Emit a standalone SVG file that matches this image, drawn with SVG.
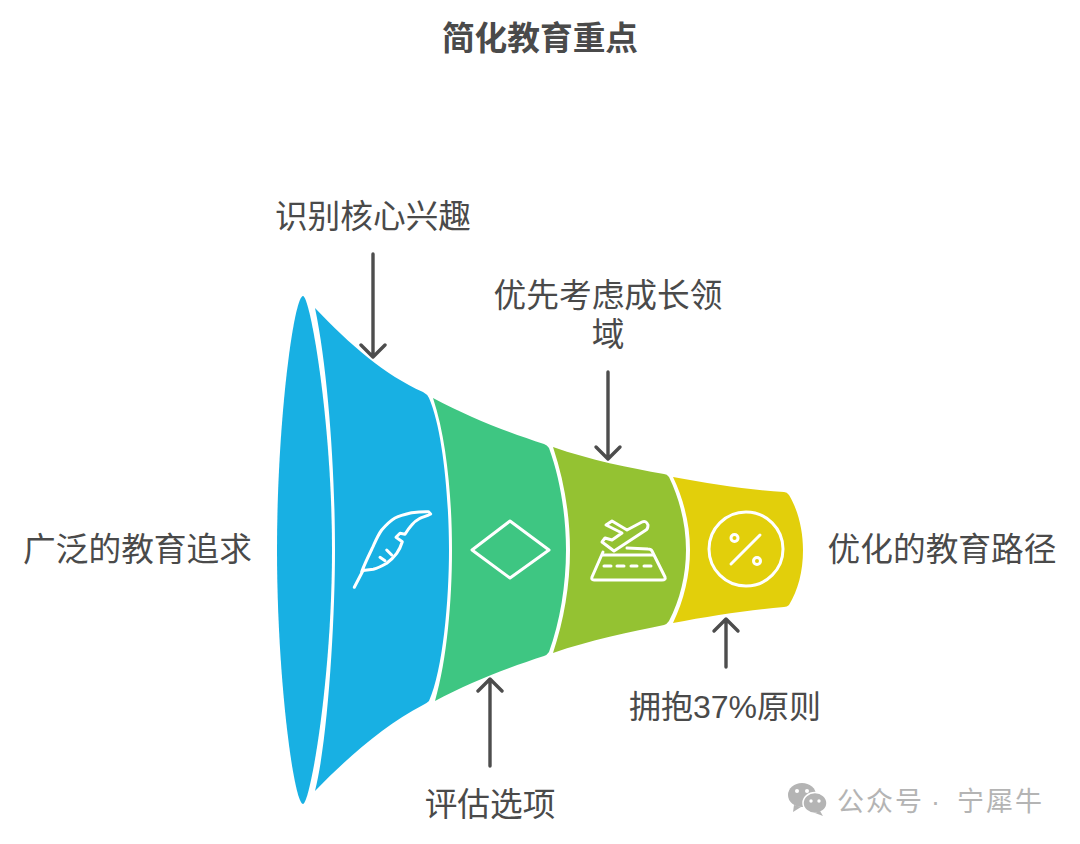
<svg xmlns="http://www.w3.org/2000/svg" width="1080" height="844" viewBox="0 0 1080 844">
<style>
text{font-family:"Liberation Sans","Noto Sans CJK SC",sans-serif;fill:#4a4a4a;font-size:32.700px;text-anchor:middle}
.t{font-weight:700}
.ic{fill:none;stroke:#fff;stroke-width:3;stroke-linecap:round;stroke-linejoin:round}
.ar{fill:none;stroke:#4d4d4d;stroke-width:3.400;stroke-linecap:round;stroke-linejoin:round}
.wm{fill:#b4b4b4;font-size:27px;text-anchor:start;letter-spacing:2px}
</style>
<rect width="1080" height="844" fill="#fff"/>
<text class="t" x="540" y="50">简化教育重点</text>
<g id="seg4"><path d="M673 477C710 484 750 490 784 492Q787 492 789 495C798 510 803 530 803 550C803 572 798 590 789 605Q787 607 784 607C750 610 710 616 673 623C684 600 690 575 690 550C690 525 684 500 673 477Z" fill="#e2cf0b"/><g class="ic"><circle cx="746" cy="549" r="37"/><path d="M760 535L731 564"/><circle cx="734.500" cy="538" r="3.500"/><circle cx="757" cy="561" r="3.500"/></g></g>
<g id="seg3"><path d="M553 447C590 460 630 468 664 474Q667 474 669 477C680 500 686 525 686 550C686 575 680 600 669 621Q667 624 664 625C630 632 590 640 553 653C564 620 570 585 570 550C570 515 564 480 553 447Z" fill="#94c232"/><g class="ic"><path d="M603 552L592 577Q591 580 594 580H662Q666 580 665 577L652 551Q651 549 648 549L627 548"/><path d="M603 555H653M604 566H611M617 566H624M631 566H637M644 566H651"/><path d="M606 525L612 521L627 530L642 522Q646 520 648 525Q648 529 646 530L614 551L602 542L605 538L612 540L622 533Z"/></g></g>
<g id="seg2"><path d="M433 398C470 418 510 433 544 444Q547 445 549 448C560 478 566 515 566 550C566 585 560 622 549 652Q547 655 544 656C510 667 470 682 435 701C447 660 452 600 452 550C452 500 447 440 433 398Z" fill="#3ec682"/><path class="ic" d="M510 521L549 550L510 578L472 550Z"/></g>
<g id="seg1"><path d="M315 308C350 345 385 375 423 392Q427 394 429 398C443 430 449 500 449 550C449 600 443 670 429 701Q427 703 423 705C385 725 350 755 315 791C328 740 335 620 335 550C335 470 328 370 315 308Z" fill="#18b0e3"/><g class="ic"><path d="M354.300 587.300L363.300 570"/><path d="M361.700 571.700C365 563 369 555 373 546.700C376 540 378 535 381.700 530C386 525 390 521 395 518C401 515 406 514 411.700 512.700C417 512 423 511.500 428.300 511.700L430.700 514C427 516 423 517 420 518.300C417 520 414 522 411.700 525C409 528 407 531 405 534.300L400 533.300L396 537.300L402.300 541.700C401 546 399 550 396.700 553.300C394 557 391 560 386.700 563.300C382 566 378 568 373.300 569.300L363 570.500"/><path d="M380 557.300L385 560.700M386.700 550L391.700 555"/></g></g>
<g id="seg0"><path d="M303 296C310 296 332 420 332 550C332 680 310 804 303 804C294 804 277 680 277 550C277 420 294 296 303 296Z" fill="#18b0e3"/></g>
<g id="connectors">
<path class="ar" d="M373 254V356M361 345L373 357L385 345"/>
<path class="ar" d="M608 372V458M596 447L608 459L620 447"/>
<path class="ar" d="M490 766V680M478 691L490 679L502 691"/>
<path class="ar" d="M726 667V620M714 631L726 619L738 631"/>
</g>
<g id="labels">
<text x="373" y="228">识别核心兴趣</text>
<text x="608" y="307">优先考虑成长领</text>
<text x="608" y="346">域</text>
<text x="137.500" y="561">广泛的教育追求</text>
<text x="942" y="561">优化的教育路径</text>
<text x="725" y="718" style="font-size:32px">拥抱37%原则</text>
<text x="490" y="816">评估选项</text>
</g>
<g id="watermark"><ellipse cx="802" cy="795" rx="14" ry="12" fill="#b4b4b4"/><path d="M794 805L793 812L801 807Z" fill="#b4b4b4"/><ellipse cx="815" cy="803" rx="12" ry="10.500" fill="#b4b4b4" stroke="#fff" stroke-width="1.500"/><path d="M820 811L823 816L815 813Z" fill="#b4b4b4"/><circle cx="797" cy="791" r="2" fill="#fff"/><circle cx="807" cy="791" r="2" fill="#fff"/><circle cx="811" cy="801" r="1.700" fill="#fff"/><circle cx="819" cy="801" r="1.700" fill="#fff"/><text class="wm" x="837" y="811">公众号<tspan x="931">·</tspan><tspan x="957">宁犀牛</tspan></text></g>
</svg>
